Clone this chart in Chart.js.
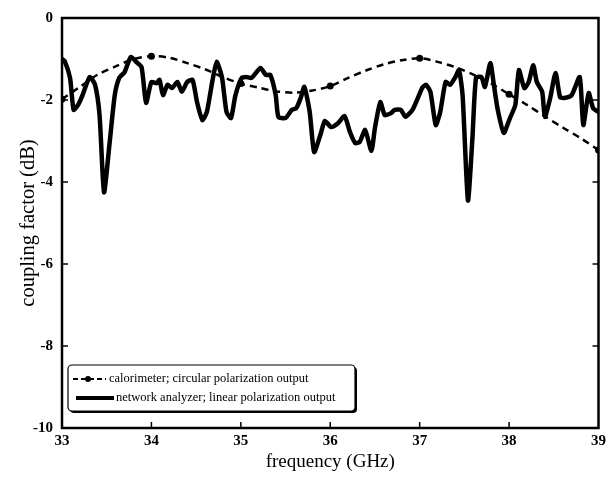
<!DOCTYPE html>
<html>
<head>
<meta charset="utf-8">
<script src="https://cdn.jsdelivr.net/npm/chart.js@4"></script>
<style>
  body { margin: 0; background: #fff; }
  #chart { display: block; }
</style>
</head>
<body>
<canvas id="chart" width="610" height="478"></canvas>
<script>
// calorimeter curve (circular polarization)
const calFreq = [33.0, 33.2, 33.4, 33.6, 33.8, 34.0, 34.2, 34.4, 34.6, 34.8, 35.0, 35.2, 35.4, 35.6, 35.8,
    36.0, 36.2, 36.4, 36.6, 36.8, 37.0, 37.2, 37.4, 37.6, 37.8, 38.0, 38.2, 38.4, 38.6, 38.8, 39.0];
const calDb = [-1.98, -1.68, -1.38, -1.18, -1.0, -0.93, -0.97, -1.1, -1.25, -1.44, -1.6, -1.7, -1.79, -1.82, -1.77,
    -1.66, -1.46, -1.28, -1.13, -1.03, -0.98, -1.07, -1.2, -1.38, -1.6, -1.86, -2.12, -2.4, -2.67, -2.93, -3.22];
// frequencies where the calorimeter was actually measured (markers)
const calMeasured = [33, 34, 35, 36, 37, 38, 39];

// network analyzer trace (linear polarization)
const naFreq = [33.00, 33.03, 33.09, 33.13, 33.18, 33.23, 33.31, 33.37, 33.42, 33.47, 33.53, 33.59, 33.64, 33.70,
    33.77, 33.83, 33.89, 33.94, 34.00, 34.06, 34.09, 34.13, 34.18, 34.23, 34.29, 34.34, 34.40, 34.46, 34.51,
    34.57, 34.62, 34.68, 34.73, 34.79, 34.84, 34.89, 34.94, 35.01, 35.06, 35.12, 35.22, 35.28, 35.33, 35.39,
    35.42, 35.50, 35.57, 35.62, 35.67, 35.71, 35.77, 35.82, 35.89, 35.94, 36.01, 36.09, 36.16, 36.22, 36.28,
    36.33, 36.39, 36.46, 36.50, 36.56, 36.61, 36.68, 36.72, 36.79, 36.84, 36.92, 36.98, 37.03, 37.07, 37.12,
    37.18, 37.23, 37.29, 37.34, 37.40, 37.44, 37.48, 37.54, 37.59, 37.63, 37.69, 37.73, 37.79, 37.83, 37.87,
    37.94, 38.01, 38.07, 38.11, 38.17, 38.22, 38.27, 38.31, 38.37, 38.40, 38.46, 38.52, 38.57, 38.62, 38.70,
    38.79, 38.83, 38.89, 38.94, 39.00];
const naDb = [-1.0, -1.05, -1.46, -2.24, -2.12, -1.88, -1.44, -1.63, -2.37, -4.25, -3.1, -1.88, -1.46, -1.32,
    -0.95, -1.07, -1.2, -2.07, -1.56, -1.59, -1.51, -1.88, -1.63, -1.71, -1.56, -1.8, -1.56, -1.51, -2.05,
    -2.49, -2.29, -1.56, -1.07, -1.46, -2.29, -2.44, -1.88, -1.46, -1.44, -1.46, -1.22, -1.39, -1.39, -1.88,
    -2.41, -2.44, -2.24, -2.2, -1.95, -1.68, -2.29, -3.27, -2.85, -2.51, -2.66, -2.56, -2.39, -2.78, -3.05,
    -3.02, -2.73, -3.24, -2.68, -2.05, -2.37, -2.32, -2.24, -2.24, -2.41, -2.24, -1.95, -1.7, -1.63, -1.8,
    -2.61, -2.29, -1.56, -1.63, -1.44, -1.27, -1.88, -4.45, -2.93, -1.46, -1.44, -1.68, -1.1, -1.63, -2.2,
    -2.8, -2.44, -2.12, -1.27, -1.71, -1.56, -1.15, -1.56, -1.8, -2.41, -1.95, -1.34, -1.93, -1.95, -1.88,
    -1.44, -2.61, -1.83, -2.2, -2.29];

const xTicks = [33, 34, 35, 36, 37, 38, 39];
const yTicks = [0, -2, -4, -6, -8, -10];

const calLabel = 'calorimeter; circular polarization output';
const naLabel = 'network analyzer; linear polarization output';

const serif = '"Liberation Serif", "Times New Roman", serif';

// box around the plot + inward tick marks
const framePlugin = {
    id: 'frame',
    afterDraw(chart) {
        const {ctx, chartArea: a, scales} = chart;
        ctx.save();
        ctx.strokeStyle = '#000';
        ctx.lineWidth = 1.5;
        xTicks.slice(1, -1).forEach(v => {
            const px = scales.x.getPixelForValue(v);
            ctx.beginPath(); ctx.moveTo(px, a.bottom); ctx.lineTo(px, a.bottom - 6); ctx.stroke();
        });
        yTicks.slice(1, -1).forEach(v => {
            const py = scales.y.getPixelForValue(v);
            ctx.beginPath(); ctx.moveTo(a.left, py); ctx.lineTo(a.left + 6, py); ctx.stroke();
            ctx.beginPath(); ctx.moveTo(a.right, py); ctx.lineTo(a.right - 6, py); ctx.stroke();
        });
        ctx.lineWidth = 2.5;
        ctx.strokeRect(a.left, a.top, a.right - a.left, a.bottom - a.top);
        ctx.restore();
    }
};

// legend box in the lower left corner
const legendPlugin = {
    id: 'boxLegend',
    afterDraw(chart) {
        const {ctx, chartArea: a} = chart;
        const x = a.left + 6, y = a.bottom - 63, w = 287, h = 46;
        ctx.save();
        ctx.fillStyle = '#000';
        ctx.beginPath(); ctx.roundRect(x + 2, y + 2, w, h, 4); ctx.fill();
        ctx.fillStyle = '#fff';
        ctx.strokeStyle = '#000';
        ctx.lineWidth = 1.2;
        ctx.beginPath(); ctx.roundRect(x, y, w, h, 4); ctx.fill(); ctx.stroke();

        const r1 = y + 14, r2 = y + 33;
        ctx.lineWidth = 2.2;
        ctx.setLineDash([5, 3]);
        ctx.beginPath(); ctx.moveTo(x + 5, r1); ctx.lineTo(x + 38, r1); ctx.stroke();
        ctx.setLineDash([]);
        ctx.fillStyle = '#000';
        ctx.beginPath(); ctx.arc(x + 20, r1, 3, 0, Math.PI * 2); ctx.fill();
        ctx.lineWidth = 4;
        ctx.beginPath(); ctx.moveTo(x + 8, r2); ctx.lineTo(x + 46, r2); ctx.stroke();

        ctx.font = '12.5px ' + serif;
        ctx.textBaseline = 'middle';
        ctx.fillText(calLabel, x + 41, r1);
        ctx.fillText(naLabel, x + 48, r2);
        ctx.restore();
    }
};

new Chart(document.getElementById('chart'), {
    type: 'line',
    data: {
        datasets: [{
            label: calLabel,
            data: calFreq.map((f, i) => ({x: f, y: calDb[i]})),
            borderColor: '#000',
            backgroundColor: '#000',
            borderWidth: 2.5,
            borderDash: [7, 5],
            tension: 0.3,
            pointRadius: c => calMeasured.includes(calFreq[c.dataIndex]) ? 3.5 : 0,
            pointBorderWidth: 0
        }, {
            label: naLabel,
            data: naFreq.map((f, i) => ({x: f, y: naDb[i]})),
            borderColor: '#000',
            borderWidth: 4.5,
            borderJoinStyle: 'round',
            borderCapStyle: 'round',
            tension: 0.2,
            pointRadius: 0
        }]
    },
    options: {
        responsive: false,
        animation: false,
        layout: { padding: { top: 18, right: 8, left: 0, bottom: 0 } },
        plugins: { legend: { display: false }, tooltip: { enabled: false } },
        scales: {
            x: {
                type: 'linear', min: 33, max: 39,
                afterFit: s => { s.height = 50; },
                afterBuildTicks: s => { s.ticks = xTicks.map(v => ({value: v})); },
                grid: { display: false, drawTicks: false },
                border: { display: false },
                ticks: { color: '#000', padding: 4, maxRotation: 0, font: { family: serif, size: 15, weight: 'bold' } },
                title: { display: true, text: 'frequency (GHz)', color: '#000', padding: { top: 0, bottom: 5 },
                    font: { family: serif, size: 19 } }
            },
            y: {
                min: -10, max: 0,
                afterFit: s => { s.width = 62; },
                afterBuildTicks: s => { s.ticks = yTicks.map(v => ({value: v})); },
                grid: { display: false, drawTicks: false },
                border: { display: false },
                ticks: { color: '#000', padding: 9, font: { family: serif, size: 15, weight: 'bold' } },
                title: { display: true, text: 'coupling factor (dB)', color: '#000', padding: { top: 16, bottom: 0 },
                    font: { family: serif, size: 20.5 } }
            }
        }
    },
    plugins: [framePlugin, legendPlugin]
});
</script>
</body>
</html>
